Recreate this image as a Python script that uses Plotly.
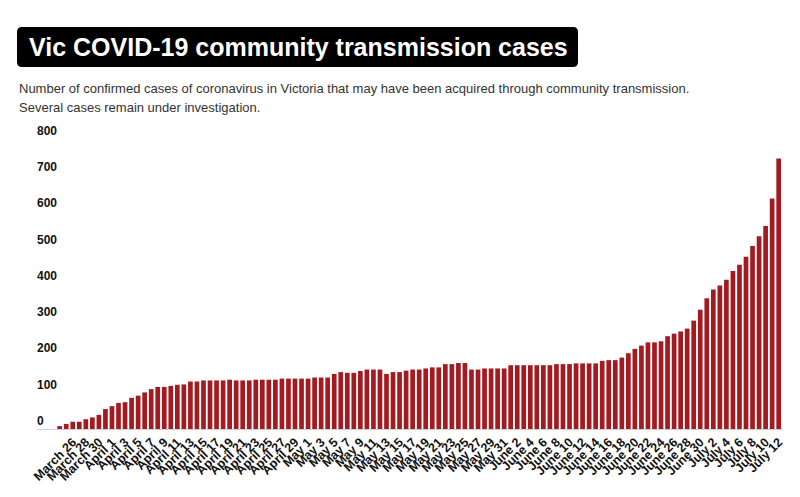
import plotly.graph_objects as go

# ---- data ----
dates = ([f"March {d}" for d in range(24, 32)] +
         [f"April {d}" for d in range(1, 31)] +
         [f"May {d}" for d in range(1, 32)] +
         [f"June {d}" for d in range(1, 31)] +
         [f"July {d}" for d in range(1, 13)])

cases = [8, 14, 20, 20, 27, 32, 39, 55, 63, 72,
         74, 86, 92, 101, 110, 116, 116, 119, 122, 123,
         131, 131, 134, 134, 134, 134, 136, 134, 134, 134,
         136, 136, 136, 136, 139, 139, 139, 139, 139, 142,
         142, 142, 152, 157, 155, 155, 160, 164, 164, 164,
         152, 157, 157, 161, 164, 164, 167, 170, 170, 179,
         179, 182, 182, 164, 164, 167, 167, 167, 167, 176,
         176, 176, 176, 176, 176, 176, 179, 179, 179, 181,
         181, 181, 181, 188, 190, 190, 197, 209, 221, 230,
         239, 239, 242, 256, 263, 269, 277, 299, 329, 361,
         385, 396, 412, 436, 453, 475, 505, 532, 560, 636,
         746]

tick_labels = dates[2::2]
y_ticks = [0, 100, 200, 300, 400, 500, 600, 700, 800]

title_text = "Vic COVID-19 community transmission cases"
subtitle_1 = "Number of confirmed cases of coronavirus in Victoria that may have been acquired through community transmission."
subtitle_2 = "Several cases remain under investigation."

# ---- layout geometry (pixels, figure coords; page adds 8px body margin) ----
OFF = 8
W, H = 800, 497
ML, MR, MT, MB = 37 - OFF, 17 + OFF, 139 - OFF, 68 + OFF
PW = W - ML - MR
PH = H - MT - MB


def px_x(p):
    return (p - OFF - ML) / PW


def px_y(p):
    return (H - MB - (p - OFF)) / PH


fig = go.Figure()
fig.add_trace(go.Bar(
    x=dates, y=cases,
    marker=dict(color="#a31b21", line=dict(width=0)),
    hoverinfo="x+y",
))

# rounded title box
x0, x1 = px_x(17), px_x(578)
y0, y1 = px_y(67), px_y(27)
rx, ry = 5 / PW, 5 / PH
path = (f"M {x0+rx},{y0} L {x1-rx},{y0} Q {x1},{y0} {x1},{y0+ry} "
        f"L {x1},{y1-ry} Q {x1},{y1} {x1-rx},{y1} "
        f"L {x0+rx},{y1} Q {x0},{y1} {x0},{y1-ry} "
        f"L {x0},{y0+ry} Q {x0},{y0} {x0+rx},{y0} Z")
fig.add_shape(type="path", path=path, xref="paper", yref="paper",
              fillcolor="#000000", line=dict(width=0), layer="above")

fig.add_annotation(text=title_text, xref="paper", yref="paper",
                   x=px_x(27), y=px_y(47), xanchor="left", yanchor="middle",
                   showarrow=False,
                   font=dict(family="Liberation Sans, Arial, sans-serif",
                             size=25, color="#ffffff", weight="bold"))
fig.add_annotation(text=subtitle_1, xref="paper", yref="paper",
                   x=px_x(17), y=px_y(88), xanchor="left", yanchor="middle",
                   showarrow=False,
                   font=dict(family="Liberation Sans, Arial, sans-serif",
                             size=13, color="#333333"))
fig.add_annotation(text=subtitle_2, xref="paper", yref="paper",
                   x=px_x(17), y=px_y(107), xanchor="left", yanchor="middle",
                   showarrow=False,
                   font=dict(family="Liberation Sans, Arial, sans-serif",
                             size=13, color="#333333"))

fig.update_layout(
    width=W, height=H,
    margin=dict(l=ML, r=MR, t=MT, b=MB, pad=0),
    paper_bgcolor="#ffffff", plot_bgcolor="#ffffff",
    bargap=0.28,
    showlegend=False,
    font=dict(family="Liberation Sans, Arial, sans-serif", color="#111111"),
)
fig.update_xaxes(
    type="category",
    range=[-3.47, 110.66],
    tickmode="array", tickvals=tick_labels, ticktext=tick_labels,
    tickangle=-45,
    tickfont=dict(size=12.5, color="#111111", weight="bold"),
    showgrid=False, zeroline=False,
    showline=True, linecolor="#d0d0d0", linewidth=1,
    ticks="",
)
fig.update_yaxes(
    range=[0, 800],
    tickmode="array", tickvals=y_ticks, ticktext=[str(v) for v in y_ticks],
    ticklabelposition="inside top",
    ticklabeloverflow="allow",
    ticklabelstandoff=-3,
    tickfont=dict(size=12, color="#111111", weight="bold"),
    showgrid=False, zeroline=False, showline=False,
    ticks="",
)

fig.write_html("out.html")
